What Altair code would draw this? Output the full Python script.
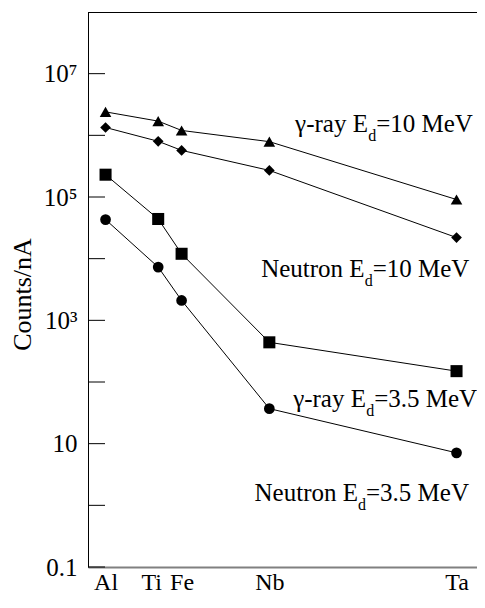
import altair as alt
import pandas as pd

# ---- data ----
elements = ["Al", "Ti", "Fe", "Nb", "Ta"]
atomic_number = [13, 22, 26, 41, 73]

series_names = ["gamma_10", "neutron_10", "gamma_35", "neutron_35"]
gamma_10 = [2.4e6, 1.7e6, 1.2e6, 7.9e5, 9.1e4]
neutron_10 = [1.34e6, 8.0e5, 5.7e5, 2.7e5, 2.2e4]
gamma_35 = [2.3e5, 4.4e4, 1.2e4, 440, 150]
neutron_35 = [4.3e4, 7.3e3, 2.1e3, 37, 7.1]
series_values = [gamma_10, neutron_10, gamma_35, neutron_35]

y_tick_values = [0.1, 1, 10, 100, 1e3, 1e4, 1e5, 1e6, 1e7]
y_label_values = [0.1, 10, 1e3, 1e5, 1e7]
y_label_texts = ["0.1", "10", "10³", "10⁵", "10⁷"]

label_main = ["γ-ray E", "Neutron E", "γ-ray E", "Neutron E"]
label_sub = ["d", "d", "d", "d"]
label_rest = ["=10 MeV", "=10 MeV", "=3.5 MeV", "=3.5 MeV"]
label_center_z = [60.6, 57.4, 60.8, 56.8]
label_value = [1.15e6, 5.0e3, 40, 1.17]

# ---- styles ----
FONT = "Liberation Serif"
WIDTH, HEIGHT = 389, 555
XMIN, XMAX = 10, 76.5
PX_PER_Z = WIDTH / (XMAX - XMIN)
shapes = ["triangle-up", "diamond", "square", "circle"]
sizes = [135, 115, 145, 115]
MAIN_SIZE, SUB_SIZE = 25, 16

# approximate Times metrics (per 1000 em) to lay out the subscript pieces
W = {' ': 250, '-': 333, '.': 250, '=': 564, 'E': 611, 'M': 889, 'N': 722, 'V': 722,
     'a': 444, 'd': 500, 'e': 444, 'n': 500, 'o': 500, 'r': 333, 't': 278, 'u': 500,
     'y': 500, 'γ': 450}
for ch in "0123456789":
    W[ch] = 500


def tw(s, size):
    return sum(W.get(c, 500) for c in s) * size / 1000.0


rows = []
for s, vals in zip(series_names, series_values):
    for el, z, v in zip(elements, atomic_number, vals):
        rows.append({"series": s, "element": el, "z": z, "value": v})
df = pd.DataFrame(rows)

main_rows, sub_rows, rest_rows = [], [], []
for m, sb, r, cz, val in zip(label_main, label_sub, label_rest, label_center_z, label_value):
    wm, ws, wr = tw(m, MAIN_SIZE), tw(sb, SUB_SIZE), tw(r, MAIN_SIZE)
    total = wm + ws + wr
    x0 = cz - (total / 2) / PX_PER_Z
    main_rows.append({"z": x0, "value": val, "text": m})
    sub_rows.append({"z": x0 + wm / PX_PER_Z, "value": val, "text": sb})
    rest_rows.append({"z": x0 + (wm + ws) / PX_PER_Z, "value": val, "text": r})

xscale = alt.Scale(domain=[XMIN, XMAX], nice=False, zero=False)
yscale = alt.Scale(type="log", domain=[0.1, 1e8], nice=False)

x_label_expr = " : ".join(
    f"datum.value == {z} ? '{e}'" for z, e in zip(atomic_number, elements)
) + " : ''"
y_label_expr = " : ".join(
    f"datum.value == {v} ? '{t}'" for v, t in zip(y_label_values, y_label_texts)
) + " : ''"

x_axis = alt.Axis(
    values=atomic_number, labelExpr=x_label_expr, ticks=False, grid=False,
    domainColor="#808080", domainWidth=2, labelFont=FONT, labelFontSize=24,
    labelColor="black", labelPadding=22, labelBaseline="alphabetic",
    labelFlush=False, labelOverlap=False, title=None,
    # nudge the crowded "Ti" label left, as in the original figure
    labelOffset={"condition": {"test": f"datum.value == {atomic_number[1]}", "value": -7},
                 "value": 0},
)
y_axis = alt.Axis(
    values=y_label_values, labelExpr=y_label_expr, ticks=False, grid=False,
    domainColor="black", domainWidth=1, labelFont=FONT, labelFontSize=25,
    labelColor="black", labelPadding=11, labelFlush=False, labelOverlap=False,
    title="Counts/nA", titleFont=FONT, titleFontSize=26, titleFontWeight="normal",
    titleColor="black", titleX=-58, titleY=282, titleBaseline="alphabetic",
    titleAlign="center",
)

X = lambda f: alt.X(f, scale=xscale, axis=x_axis)
Y = lambda f: alt.Y(f, scale=yscale, axis=y_axis)

lines = alt.Chart(df).mark_line(color="black", strokeWidth=1).encode(
    x=X("z:Q"), y=Y("value:Q"), detail="series:N", order="z:Q",
)

ticks = alt.Chart(pd.DataFrame({"v": y_tick_values})).mark_rule(
    color="black", strokeWidth=1
).encode(y=Y("v:Q"), x=alt.value(0), x2=alt.value(17))

top_border = alt.Chart(pd.DataFrame({"a": [0]})).mark_rule(
    color="black", strokeWidth=1
).encode(x=alt.value(0), x2=alt.value(WIDTH), y=alt.value(0.5))

point_layers = []
for s, shp, sz in zip(series_names, shapes, sizes):
    point_layers.append(
        alt.Chart(df[df.series == s]).mark_point(
            shape=shp, size=sz, filled=True, color="black", opacity=1
        ).encode(x=X("z:Q"), y=Y("value:Q"))
    )


def text_layer(rows_, size, dy):
    return alt.Chart(pd.DataFrame(rows_)).mark_text(
        font=FONT, fontSize=size, align="left", baseline="alphabetic",
        color="black", dy=dy
    ).encode(x=X("z:Q"), y=Y("value:Q"), text="text:N")


texts = [
    text_layer(main_rows, MAIN_SIZE, 0),
    text_layer(sub_rows, SUB_SIZE, 9),
    text_layer(rest_rows, MAIN_SIZE, 0),
]

chart = alt.layer(lines, ticks, top_border, *point_layers, *texts).properties(
    width=WIDTH, height=HEIGHT,
    autosize=alt.AutoSizeParams(type="none"),
    padding={"left": 80, "top": 4, "right": 0, "bottom": 29},
).configure_view(stroke=None)

chart.save("out.html", embed_options={"renderer": "svg", "actions": False})
